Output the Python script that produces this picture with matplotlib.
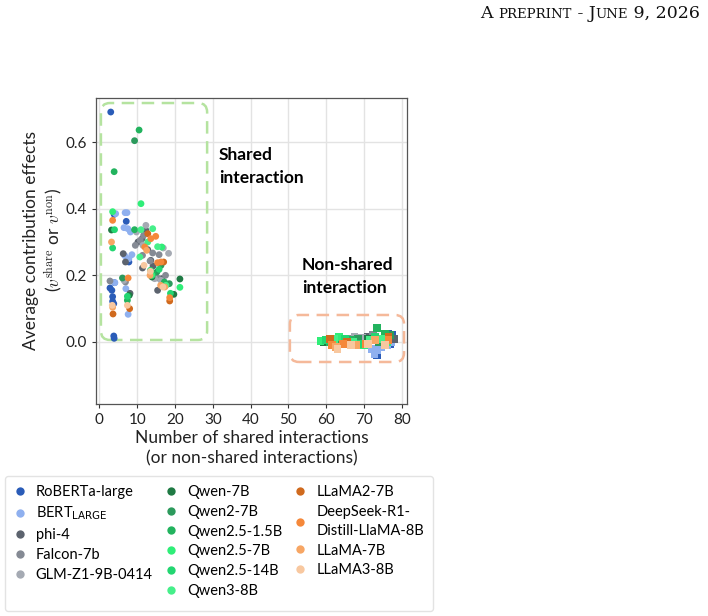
import numpy as np
import matplotlib
matplotlib.use("Agg")
from matplotlib import pyplot as plt
from matplotlib.patches import FancyBboxPatch
from matplotlib.lines import Line2D

plt.rcParams['font.family'] = ['Lato', 'DejaVu Sans']

models = ['RoBERTa-large', 'BERT$_{\\mathrm{LARGE}}$', 'phi-4', 'Falcon-7b', 'GLM-Z1-9B-0414',
          'Qwen-7B', 'Qwen2-7B', 'Qwen2.5-1.5B', 'Qwen2.5-7B', 'Qwen2.5-14B', 'Qwen3-8B',
          'LLaMA2-7B', 'DeepSeek-R1-\nDistill-LlaMA-8B', 'LLaMA-7B', 'LLaMA3-8B']
colors = ['#2a5cb8', '#8fb0ef', '#5c636e', '#858a94', '#a5aab3',
          '#1f7a44', '#2c9a5c', '#22b35e', '#2fee78', '#23d671', '#46ef8a',
          '#d06a1e', '#f5883a', '#f7a664', '#f8c8a0']

# shared interactions: (count, effect)
shared = [
    [(3, 0.69), (3.9, 0.383), (7.1, 0.362), (4, 0.178), (2.8, 0.162), (3.3, 0.155), (3.5, 0.136),
     (3.5, 0.122), (3.8, 0.018), (3.9, 0.011), (7.8, 0.24), (3.8, 0.115)],
    [(6.8, 0.388), (7.3, 0.388), (6.5, 0.343), (7.5, 0.34), (8.2, 0.33), (6.7, 0.259), (8.6, 0.262),
     (7.8, 0.25), (7.6, 0.083), (4.1, 0.178), (7.0, 0.16), (4.3, 0.385)],
    [(12.3, 0.335), (11.3, 0.31), (12.8, 0.277), (6.9, 0.24), (11.4, 0.222), (14.2, 0.228),
     (15.4, 0.155), (8.1, 0.146), (13.6, 0.245), (16.5, 0.19), (6.3, 0.265), (10.2, 0.3)],
    [(10.8, 0.305), (11.7, 0.32), (11.4, 0.26), (14.1, 0.267), (15.8, 0.262), (13.4, 0.243),
     (15.4, 0.192), (2.8, 0.183), (6.9, 0.18), (17.5, 0.2), (9.5, 0.29)],
    [(12.3, 0.35), (16.9, 0.282), (18.3, 0.266), (11.5, 0.29), (16.3, 0.185), (6.5, 0.185),
     (14.6, 0.19), (9.8, 0.33)],
    [(21.3, 0.189), (19.7, 0.143), (3.2, 0.336), (7.9, 0.14), (17.5, 0.17), (13.9, 0.195)],
    [(9.3, 0.604), (16.3, 0.23), (15.2, 0.21), (6.1, 0.192), (18.5, 0.175)],
    [(10.5, 0.636), (3.9, 0.511), (9.3, 0.337), (14.2, 0.205), (7.4, 0.125), (17.2, 0.18)],
    [(11.0, 0.415), (3.5, 0.391), (21.3, 0.164), (16.5, 0.285), (13.9, 0.2)],
    [(4, 0.337), (3.5, 0.282), (18.8, 0.146), (7.4, 0.137), (15.8, 0.218), (13.5, 0.215)],
    [(14.1, 0.34), (11, 0.337), (10.7, 0.255), (15.4, 0.286), (17.6, 0.17), (12.8, 0.3)],
    [(3.6, 0.084), (8, 0.1), (18.6, 0.123), (12.8, 0.325), (17.0, 0.24)],
    [(3.5, 0.365), (14.9, 0.317), (13.6, 0.31), (15.4, 0.238), (16.3, 0.24), (7.6, 0.192),
     (12, 0.285), (18.6, 0.133)],
    [(3.2, 0.3), (13.4, 0.2), (17.3, 0.165), (3.5, 0.104), (12.5, 0.275), (16.2, 0.17)],
    [(7.4, 0.11), (13.5, 0.212), (16.8, 0.165), (3.4, 0.11), (11.8, 0.23)],
]

# non-shared interactions: (count, effect)
nonshared = [
    [(76.5, 0.025), (77, 0.01), (73.5, -0.04), (76.8, -0.005), (72.5, 0.005), (77.5, 0.02)],
    [(72, -0.02), (73.5, -0.025), (74.5, -0.015), (76, -0.01), (72.8, -0.035), (77.3, 0.0)],
    [(62, 0.005), (66, 0.0), (69, 0.01), (71, 0.015), (73.5, 0.01), (64, 0.0), (78, 0.01)],
    [(60.5, 0.0), (63, 0.005), (65.5, 0.01), (68, 0.012), (70, 0.005), (72.5, 0.02), (67, 0.0)],
    [(61.5, -0.005), (64.5, 0.01), (67.5, 0.015), (69.5, 0.012), (71.5, 0.01), (74, 0.008), (66, 0.005)],
    [(59.5, 0.0), (64, -0.005), (71, 0.01), (75.5, 0.018)],
    [(62.5, 0.005), (68.5, 0.008), (74, 0.0), (77, 0.02)],
    [(73.4, 0.042), (61, 0.0), (66.5, 0.005), (75.5, 0.025)],
    [(58.5, 0.003), (63.5, 0.015), (70, -0.01), (76, 0.0)],
    [(60, 0.005), (65, 0.01), (69, -0.005), (73, 0.015)],
    [(62, 0.008), (67, 0.0), (71.5, 0.005), (75, 0.01)],
    [(61, 0.01), (65.5, 0.0), (76.5, 0.015)],
    [(61.5, -0.01), (64.5, -0.005), (70.5, -0.005), (76.5, 0.005)],
    [(62.5, -0.015), (68, -0.01), (73, 0.005)],
    [(63, -0.02), (66.5, -0.01), (71, -0.005), (75.5, -0.01)],
]

fig = plt.figure(figsize=(7.08, 6.16), dpi=100)
ax = fig.add_axes([0.1356, 0.3442, 0.4388, 0.4972])

for pts, c in zip(shared, colors):
    p = np.array(pts)
    ax.scatter(p[:, 0], p[:, 1], s=24, color=c, edgecolors='none', zorder=3)
for pts, c in zip(nonshared, colors):
    p = np.array(pts)
    ax.scatter(p[:, 0], p[:, 1], s=32, marker='s', color=c, edgecolors='none', zorder=3)

ax.set_xlim(-0.9, 81.3)
ax.set_ylim(-0.186, 0.733)
ax.set_xticks(np.arange(0, 81, 10))
ax.set_yticks([0.0, 0.2, 0.4, 0.6])
ax.grid(True, color='#e3e3e3', linewidth=1)
ax.set_axisbelow(True)
ax.tick_params(labelsize=11, length=3, color='#333333', labelcolor='#222222')
for s in ax.spines.values():
    s.set_color('#555555')
    s.set_linewidth(0.9)

# aspect so the rounded corners look round
asp = (0.733 + 0.186) / 0.4972 / 6.16 / ((81.3 + 0.9) / 0.4388 / 7.08)
box1 = FancyBboxPatch((0.4, 0.006), 28.1, 0.711, boxstyle='round,pad=0,rounding_size=2.4',
                      mutation_aspect=asp, fill=False, edgecolor='#b5e3a0', linewidth=1.8,
                      linestyle=(0, (5, 3)), zorder=2)
box2 = FancyBboxPatch((50.4, -0.06), 30.2, 0.141, boxstyle='round,pad=0,rounding_size=2.4',
                      mutation_aspect=asp, fill=False, edgecolor='#f5b99a', linewidth=1.8,
                      linestyle=(0, (5, 3)), zorder=2)
ax.add_patch(box1)
ax.add_patch(box2)

ax.text(31.6, 0.585, 'Shared\ninteraction', fontsize=12.5, fontweight='bold', va='top',
        linespacing=1.5)
ax.text(53.6, 0.255, 'Non-shared\ninteraction', fontsize=12.5, fontweight='bold', va='top',
        linespacing=1.5)

ax.set_xlabel('Number of shared interactions\n(or non-shared interactions)', fontsize=12.5,
              color='#222222', labelpad=2, linespacing=1.35)
ax.set_ylabel('Average contribution effects\n($v^{\\mathrm{share}}$ or $v^{\\mathrm{non}}$)',
              fontsize=12.5, color='#222222', math_fontfamily='cm')
ax.yaxis.set_label_coords(-0.102, 0.535)

# legend: 17 slots -> columns of 6, 6, 5 (blanks pad col 1 and col 3)
handles = []
labels = []
blank = Line2D([], [], linestyle='none', marker=None)
order = [0, 1, 2, 3, 4, None, 5, 6, 7, 8, 9, 10, 11, 12, 13, 14, None]
for i in order:
    if i is None:
        handles.append(blank)
        labels.append('')
    else:
        handles.append(Line2D([], [], linestyle='none', marker='o', markersize=6,
                              markerfacecolor=colors[i], markeredgecolor='none'))
        labels.append(models[i])
leg = fig.legend(handles, labels, loc='upper left', bbox_to_anchor=(0.007, 0.227), ncol=3,
                 frameon=True, fancybox=True, edgecolor='#dddddd', borderaxespad=0,
                 handlelength=0.8, handletextpad=0.7, columnspacing=0.85, labelspacing=0.4,
                 borderpad=0.6, prop={'size': 10.5, 'math_fontfamily': 'dejavusans'})
leg.get_frame().set_linewidth(1.0)
for t in leg.get_texts():
    t.set_linespacing(1.45)

# header
fig.canvas.draw()
r = fig.canvas.get_renderer()
pieces = [('A ', 12.5), ('PREPRINT', 9.5), (' - J', 12.5), ('UNE', 9.5), (' 9, 2026', 12.5)]
texts = []
for s, fs in pieces:
    t = fig.text(0, 1 - 18 / 616, s, fontsize=fs, family='DejaVu Serif', va='baseline',
                 color='#111111')
    texts.append(t)
widths = [t.get_window_extent(r).width for t in texts]
x = 700 - sum(widths)
for t, w in zip(texts, widths):
    t.set_x(x / 708)
    x += w

fig.savefig('out.png', dpi=100)
